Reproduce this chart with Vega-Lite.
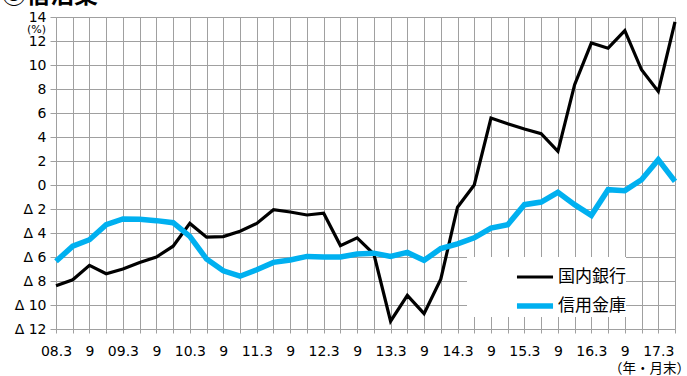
{
  "$schema": "https://vega.github.io/schema/vega-lite/v6.json",
  "autosize": {"type": "none"},
  "width": 619,
  "height": 312,
  "padding": {"left": 56, "top": 17, "right": 12, "bottom": 47},
  "background": "white",
  "title": {
    "text": "③宿泊業",
    "anchor": "start",
    "frame": "group",
    "dx": -54,
    "offset": 2,
    "fontSize": 24,
    "fontWeight": "bold",
    "font": "Noto Sans CJK JP",
    "color": "#000000"
  },
  "config": {
    "view": {"stroke": null},
    "axis": {
      "gridColor": "#a0a0a0",
      "gridOpacity": 1,
      "gridWidth": 1,
      "domainColor": "#a0a0a0",
      "domainWidth": 1,
      "tickColor": "#a0a0a0",
      "tickWidth": 1,
      "labelColor": "#000000",
      "titleColor": "#000000",
      "labelFont": "DejaVu Sans",
      "labelFontSize": 14
    }
  },
  "data": {
    "values": [
      {"period": "08.3", "series": "国内銀行", "value": -8.4},
      {"period": "08.6", "series": "国内銀行", "value": -7.9},
      {"period": "08.9", "series": "国内銀行", "value": -6.7},
      {"period": "08.12", "series": "国内銀行", "value": -7.4},
      {"period": "09.3", "series": "国内銀行", "value": -7.0},
      {"period": "09.6", "series": "国内銀行", "value": -6.45},
      {"period": "09.9", "series": "国内銀行", "value": -6.0},
      {"period": "09.12", "series": "国内銀行", "value": -5.1},
      {"period": "10.3", "series": "国内銀行", "value": -3.2},
      {"period": "10.6", "series": "国内銀行", "value": -4.35},
      {"period": "10.9", "series": "国内銀行", "value": -4.3},
      {"period": "10.12", "series": "国内銀行", "value": -3.85},
      {"period": "11.3", "series": "国内銀行", "value": -3.2},
      {"period": "11.6", "series": "国内銀行", "value": -2.06},
      {"period": "11.9", "series": "国内銀行", "value": -2.25},
      {"period": "11.12", "series": "国内銀行", "value": -2.5},
      {"period": "12.3", "series": "国内銀行", "value": -2.35},
      {"period": "12.6", "series": "国内銀行", "value": -5.05},
      {"period": "12.9", "series": "国内銀行", "value": -4.4},
      {"period": "12.12", "series": "国内銀行", "value": -5.75},
      {"period": "13.3", "series": "国内銀行", "value": -11.35},
      {"period": "13.6", "series": "国内銀行", "value": -9.2},
      {"period": "13.9", "series": "国内銀行", "value": -10.72},
      {"period": "13.12", "series": "国内銀行", "value": -7.85},
      {"period": "14.3", "series": "国内銀行", "value": -1.85},
      {"period": "14.6", "series": "国内銀行", "value": 0.0},
      {"period": "14.9", "series": "国内銀行", "value": 5.58},
      {"period": "14.12", "series": "国内銀行", "value": 5.1},
      {"period": "15.3", "series": "国内銀行", "value": 4.66},
      {"period": "15.6", "series": "国内銀行", "value": 4.27},
      {"period": "15.9", "series": "国内銀行", "value": 2.8},
      {"period": "15.12", "series": "国内銀行", "value": 8.36},
      {"period": "16.3", "series": "国内銀行", "value": 11.83},
      {"period": "16.6", "series": "国内銀行", "value": 11.4},
      {"period": "16.9", "series": "国内銀行", "value": 12.86},
      {"period": "16.12", "series": "国内銀行", "value": 9.6},
      {"period": "17.3", "series": "国内銀行", "value": 7.8},
      {"period": "17.6", "series": "国内銀行", "value": 13.6},
      {"period": "08.3", "series": "信用金庫", "value": -6.36},
      {"period": "08.6", "series": "信用金庫", "value": -5.1},
      {"period": "08.9", "series": "信用金庫", "value": -4.56},
      {"period": "08.12", "series": "信用金庫", "value": -3.3},
      {"period": "09.3", "series": "信用金庫", "value": -2.83},
      {"period": "09.6", "series": "信用金庫", "value": -2.86},
      {"period": "09.9", "series": "信用金庫", "value": -2.97},
      {"period": "09.12", "series": "信用金庫", "value": -3.14},
      {"period": "10.3", "series": "信用金庫", "value": -4.28},
      {"period": "10.6", "series": "信用金庫", "value": -6.17},
      {"period": "10.9", "series": "信用金庫", "value": -7.15},
      {"period": "10.12", "series": "信用金庫", "value": -7.6},
      {"period": "11.3", "series": "信用金庫", "value": -7.06},
      {"period": "11.6", "series": "信用金庫", "value": -6.45},
      {"period": "11.9", "series": "信用金庫", "value": -6.25},
      {"period": "11.12", "series": "信用金庫", "value": -5.95},
      {"period": "12.3", "series": "信用金庫", "value": -6.0},
      {"period": "12.6", "series": "信用金庫", "value": -6.0},
      {"period": "12.9", "series": "信用金庫", "value": -5.75},
      {"period": "12.12", "series": "信用金庫", "value": -5.68},
      {"period": "13.3", "series": "信用金庫", "value": -5.95},
      {"period": "13.6", "series": "信用金庫", "value": -5.62},
      {"period": "13.9", "series": "信用金庫", "value": -6.28},
      {"period": "13.12", "series": "信用金庫", "value": -5.3},
      {"period": "14.3", "series": "信用金庫", "value": -4.9},
      {"period": "14.6", "series": "信用金庫", "value": -4.4},
      {"period": "14.9", "series": "信用金庫", "value": -3.59},
      {"period": "14.12", "series": "信用金庫", "value": -3.31},
      {"period": "15.3", "series": "信用金庫", "value": -1.64},
      {"period": "15.6", "series": "信用金庫", "value": -1.42},
      {"period": "15.9", "series": "信用金庫", "value": -0.61},
      {"period": "15.12", "series": "信用金庫", "value": -1.64},
      {"period": "16.3", "series": "信用金庫", "value": -2.53},
      {"period": "16.6", "series": "信用金庫", "value": -0.39},
      {"period": "16.9", "series": "信用金庫", "value": -0.47},
      {"period": "16.12", "series": "信用金庫", "value": 0.44},
      {"period": "17.3", "series": "信用金庫", "value": 2.11},
      {"period": "17.6", "series": "信用金庫", "value": 0.3}
    ]
  },
  "mark": {"type": "line", "strokeCap": "butt", "strokeJoin": "miter"},
  "encoding": {
    "x": {
      "field": "period",
      "type": "ordinal",
      "sort": null,
      "scale": {"type": "point", "padding": 0},
      "axis": {
        "title": "（年・月末）",
        "titleFont": "Noto Sans CJK JP",
        "titleFontSize": 13.5,
        "titleFontWeight": "normal",
        "titleAlign": "center",
        "titleBaseline": "middle",
        "titleX": 593,
        "titleY": 39,
        "labelAngle": 0,
        "labelOverlap": false,
        "labelPadding": 11,
        "tickSize": 4,
        "grid": true,
        "labelExpr": "slice(datum.value, -2) == '.3' ? datum.value : (slice(datum.value, -2) == '.9' ? '9' : '')"
      }
    },
    "y": {
      "field": "value",
      "type": "quantitative",
      "scale": {"domain": [-12, 14], "nice": false, "zero": false},
      "axis": {
        "values": [-12, -10, -8, -6, -4, -2, 0, 2, 4, 6, 8, 10, 12, 14],
        "title": "(%)",
        "titleFont": "DejaVu Sans",
        "titleFontSize": 11,
        "titleFontWeight": "normal",
        "titleAngle": 0,
        "titleAlign": "center",
        "titleBaseline": "middle",
        "titleX": -20,
        "titleY": 12,
        "tickSize": 6,
        "labelPadding": 4,
        "labelExpr": "datum.value < 0 ? 'Δ ' + abs(datum.value) : '' + datum.value"
      }
    },
    "color": {
      "field": "series",
      "type": "nominal",
      "sort": null,
      "scale": {"domain": ["国内銀行", "信用金庫"], "range": ["#000000", "#00B0F0"]},
      "legend": {
        "title": null,
        "orient": "none",
        "legendX": 411,
        "legendY": 240,
        "direction": "vertical",
        "fillColor": "white",
        "padding": 0,
        "symbolType": "stroke",
        "symbolSize": 1300,
        "symbolStrokeWidth": 4.5,
        "symbolOffset": 47,
        "rowPadding": -6,
        "labelOffset": 2,
        "labelFont": "Noto Sans CJK JP",
        "labelFontSize": 17,
        "labelColor": "#000000"
      }
    },
    "strokeWidth": {
      "field": "series",
      "type": "nominal",
      "sort": null,
      "scale": {"domain": ["国内銀行", "信用金庫"], "range": [3.2, 5.5]},
      "legend": null
    }
  }
}
